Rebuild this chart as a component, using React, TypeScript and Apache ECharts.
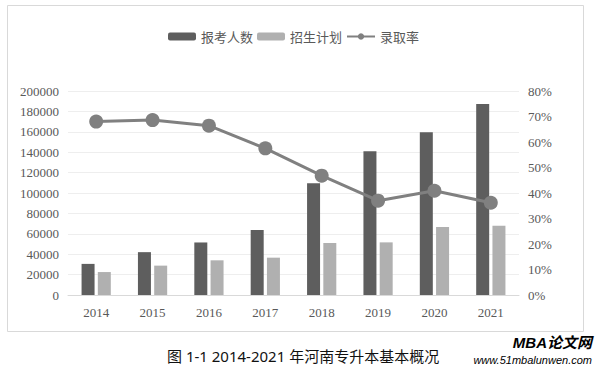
import React, { useEffect, useRef } from "react";
import * as echarts from "echarts";

const years = ["2014", "2015", "2016", "2017", "2018", "2019", "2020", "2021"];
const applicants = [30500, 42000, 51500, 63800, 109500, 141000, 159500, 187300];
const enrollmentPlan = [22500, 28800, 34000, 36600, 51000, 51600, 66700, 68000];
const admissionRate = [0.68, 0.686, 0.664, 0.575, 0.468, 0.37, 0.409, 0.362];

const seriesNames = ["报考人数", "招生计划", "录取率"];
const caption = "图 1-1 2014-2021 年河南专升本基本概况";

export default function App() {
  const ref = useRef<HTMLDivElement>(null);
  useEffect(() => {
    const chart = echarts.init(ref.current!, undefined, { renderer: "svg" });
    const serif = "'Liberation Serif', 'DejaVu Serif', serif";
    chart.setOption({
      animation: false,
      backgroundColor: "#ffffff",
      legend: {
        top: 25,
        left: 163,
        itemWidth: 28,
        itemHeight: 8,
        itemGap: 4,
        textStyle: { color: "#595959", fontSize: 13, fontFamily: "'Noto Sans CJK SC', sans-serif" },
        data: seriesNames,
      },
      grid: { left: 68, right: 76, top: 91, bottom: 71 },
      xAxis: {
        type: "category",
        data: years,
        axisLine: { lineStyle: { color: "#d9d9d9" } },
        axisTick: { show: false },
        axisLabel: { color: "#595959", fontSize: 13, fontFamily: serif, margin: 11 },
      },
      yAxis: [
        {
          type: "value",
          min: 0,
          max: 200000,
          interval: 20000,
          axisLine: { show: false },
          axisTick: { show: false },
          splitLine: { lineStyle: { color: "#eeeeee" } },
          axisLabel: {
            color: "#595959",
            fontSize: 13,
            fontFamily: serif,
            margin: 9,
            formatter: (v: number) => String(v),
          },
        },
        {
          type: "value",
          min: 0,
          max: 0.8,
          interval: 0.1,
          axisLine: { show: false },
          axisTick: { show: false },
          splitLine: { show: false },
          axisLabel: {
            color: "#595959",
            fontSize: 13,
            fontFamily: serif,
            margin: 9,
            formatter: (v: number) => Math.round(v * 100) + "%",
          },
        },
      ],
      series: [
        {
          name: seriesNames[0],
          type: "bar",
          data: applicants,
          barWidth: 13,
          barGap: "25%",
          itemStyle: { color: "#5e5e5e" },
        },
        {
          name: seriesNames[1],
          type: "bar",
          data: enrollmentPlan,
          barWidth: 13,
          itemStyle: { color: "#b0b0b0" },
        },
        {
          name: seriesNames[2],
          type: "line",
          yAxisIndex: 1,
          data: admissionRate,
          symbol: "circle",
          symbolSize: 14,
          lineStyle: { color: "#808080", width: 3 },
          itemStyle: { color: "#808080" },
        },
      ],
      graphic: [
        {
          type: "rect",
          shape: { x: 7.5, y: 5.5, width: 576, height: 326 },
          style: { fill: "none", stroke: "#d9d9d9", lineWidth: 1 },
          silent: true,
        },
        {
          type: "text",
          x: 167,
          y: 348,
          style: {
            text: caption,
            fill: "#111111",
            fontSize: 15,
            fontFamily: "'Noto Sans', 'Noto Sans CJK SC', sans-serif",
          },
        },
        {
          type: "text",
          x: 592,
          y: 335,
          style: {
            text: "MBA论文网",
            textAlign: "right",
            fill: "#000000",
            fontSize: 15,
            fontWeight: "bold",
            fontStyle: "italic",
            fontFamily: "'Liberation Sans', 'Noto Sans CJK SC', sans-serif",
          },
        },
        {
          type: "text",
          x: 592,
          y: 354,
          style: {
            text: "www.51mbalunwen.com",
            textAlign: "right",
            fontSize: 11,
            fontStyle: "italic",
            fontFamily: "'Liberation Sans', sans-serif",
            fill: new echarts.graphic.LinearGradient(0, 0, 1, 0, [
              { offset: 0, color: "#e0409a" },
              { offset: 0.5, color: "#b050c0" },
              { offset: 1, color: "#30b0d0" },
            ]),
          },
        },
      ],
    });
    return () => chart.dispose();
  }, []);
  return (
    <div
      ref={ref}
      style={{ position: "fixed", left: 0, top: 0, width: 595, height: 366 }}
    />
  );
}
